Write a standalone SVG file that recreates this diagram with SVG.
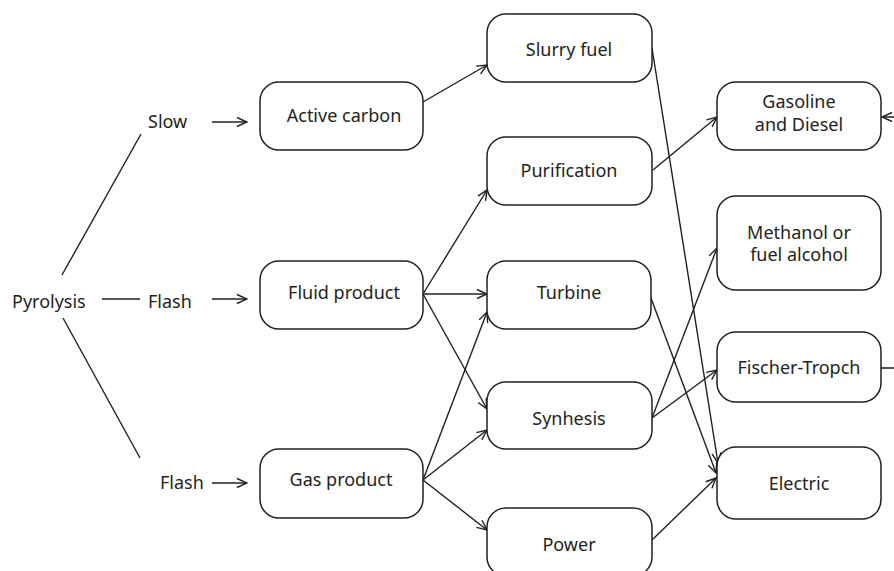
<svg xmlns="http://www.w3.org/2000/svg" width="894" height="571" viewBox="0 0 894 571">
<defs>
<style>
.box{fill:#fff;stroke:#231f20;stroke-width:1.5}
.t{font-family:"Noto Sans","Open Sans",sans-serif;font-size:18px;fill:#231f20}
.c{text-anchor:middle}
.ln{fill:none;stroke:#231f20;stroke-width:1.4}
.ar{marker-end:url(#arr)}
</style>
<marker id="arr" markerUnits="userSpaceOnUse" viewBox="0 0 12 12" refX="11" refY="6" markerWidth="12" markerHeight="12" orient="auto">
<path d="M1,1.5 L11,6 L1,10.5" fill="none" stroke="#231f20" stroke-width="1.4"/>
</marker>
</defs>
<rect width="894" height="571" fill="#fff"/>
<g id="labels">
<text class="t" x="12" y="308">Pyrolysis</text>
<text class="t" x="148" y="128">Slow</text>
<text class="t" x="148" y="308">Flash</text>
<text class="t" x="160" y="489">Flash</text>
</g>
<g id="connectors">
<line class="ln" x1="102" y1="299" x2="140" y2="299"/>
<line class="ln" x1="62" y1="275" x2="141" y2="134"/>
<line class="ln" x1="63" y1="318" x2="140" y2="458"/>
<line class="ln ar" x1="212" y1="122" x2="247" y2="122"/>
<line class="ln ar" x1="212" y1="299" x2="247" y2="299"/>
<line class="ln ar" x1="212" y1="483" x2="247" y2="483"/>
<line class="ln ar" x1="423" y1="102" x2="487" y2="65"/>
<line class="ln ar" x1="652" y1="48" x2="718" y2="463"/>
<line class="ln ar" x1="653" y1="170" x2="717" y2="117"/>
<line class="ln ar" x1="423" y1="294" x2="487" y2="190"/>
<line class="ln ar" x1="423" y1="294" x2="487" y2="294"/>
<line class="ln ar" x1="423" y1="294" x2="487" y2="409"/>
<line class="ln ar" x1="423" y1="480" x2="487" y2="312"/>
<line class="ln ar" x1="423" y1="480" x2="487" y2="430"/>
<line class="ln ar" x1="423" y1="480" x2="487" y2="530"/>
<line class="ln ar" x1="651" y1="298" x2="716" y2="473"/>
<line class="ln ar" x1="652" y1="418" x2="717" y2="248"/>
<line class="ln ar" x1="652" y1="418" x2="717" y2="370"/>
<line class="ln ar" x1="652" y1="540" x2="716" y2="478"/>
<path class="ln ar" d="M881,368 H902 V117 H882"/>
</g>
<g id="active-carbon"><rect class="box" x="260" y="82" width="163" height="68" rx="19"/><text class="t c" x="344" y="122">Active carbon</text></g>
<g id="slurry-fuel"><rect class="box" x="487" y="14" width="165" height="68" rx="19"/><text class="t c" x="569" y="56">Slurry fuel</text></g>
<g id="purification"><rect class="box" x="487" y="137" width="165" height="68" rx="19"/><text class="t c" x="569" y="177">Purification</text></g>
<g id="fluid-product"><rect class="box" x="260" y="261" width="163" height="68" rx="19"/><text class="t c" x="344" y="299">Fluid product</text></g>
<g id="gas-product"><rect class="box" x="260" y="449" width="163" height="69" rx="19"/><text class="t c" x="341" y="486">Gas product</text></g>
<g id="turbine"><rect class="box" x="487" y="261" width="164" height="68" rx="19"/><text class="t c" x="569" y="299">Turbine</text></g>
<g id="synhesis"><rect class="box" x="487" y="382" width="165" height="67" rx="19"/><text class="t c" x="569" y="425">Synhesis</text></g>
<g id="power"><rect class="box" x="487" y="508" width="165" height="68" rx="19"/><text class="t c" x="569" y="551">Power</text></g>
<g id="gasoline"><rect class="box" x="717" y="82" width="164" height="68" rx="19"/><text class="t c" x="799" y="108">Gasoline</text><text class="t c" x="799" y="131">and Diesel</text></g>
<g id="methanol"><rect class="box" x="717" y="196" width="164" height="94" rx="19"/><text class="t c" x="799" y="239">Methanol or</text><text class="t c" x="799" y="261">fuel alcohol</text></g>
<g id="fischer"><rect class="box" x="717" y="332" width="164" height="70" rx="19"/><text class="t c" x="799" y="374">Fischer-Tropch</text></g>
<g id="electric"><rect class="box" x="717" y="447" width="164" height="72" rx="19"/><text class="t c" x="799" y="490">Electric</text></g>
</svg>
